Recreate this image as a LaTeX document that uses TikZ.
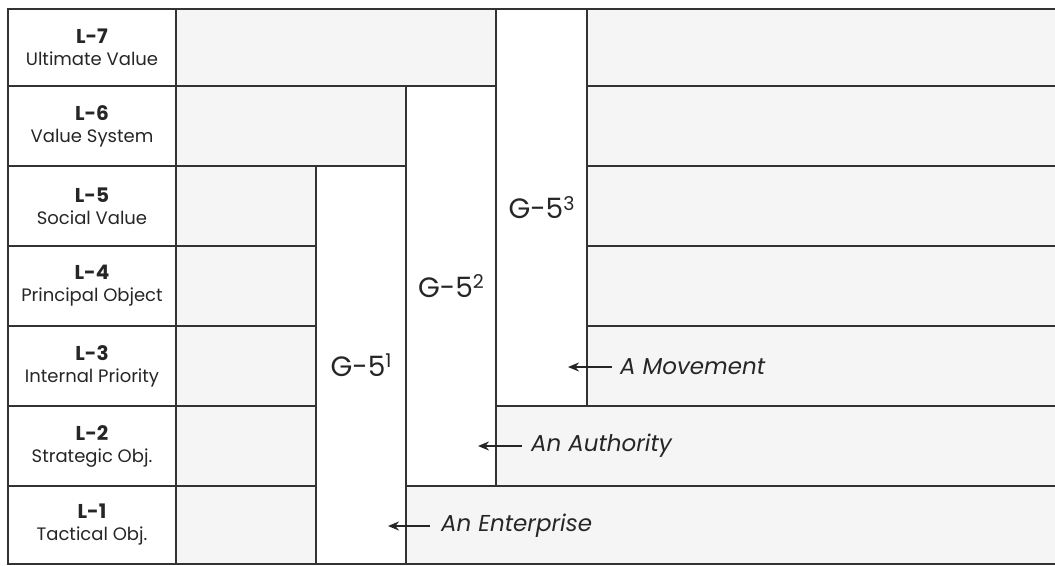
\documentclass[tikz,border=0pt]{standalone}
\usepackage{fontspec}
\setmainfont{Poppins}
\usetikzlibrary{arrows.meta}
\newcommand\mycell[7]{\node[#6, minimum width={(#4-#2)*1pt}, minimum height={(#5-#3)*1pt}] (#1) at ({(#2+#4)/2},{(#3+#5)/2}) {#7};}
\newcommand\lev[2]{{\fontsize{20}{22}\selectfont\bfseries #1}\\#2}
\newcommand\gsup[1]{\raisebox{8.5pt}{\fontsize{19}{20}\selectfont #1}}
\begin{document}
\begin{tikzpicture}[x=1pt,y=-1pt,
  frame/.style={draw=black!80, line width=1.7pt, inner sep=0pt, outer sep=0pt},
  lab/.style={frame, fill=white, align=center, font=\fontsize{18}{22}\selectfont, text=black!85},
  shade/.style={frame, fill=black!4},
  col/.style={frame, fill=white, font=\fontsize{28}{30}\selectfont, text=black!85},
  tag/.style={font=\fontsize{23}{26}\selectfont\itshape, text=black!85, anchor=west, inner sep=0pt},
  arr/.style={draw=black!85, line width=2pt, -{Stealth[length=11pt,width=9pt]}}
]
\useasboundingbox (0,0) rectangle (1055,565);
\fill[white] (0,0) rectangle (1055,565);
% shaded cells
\mycell{s7a}{176}{9}{496}{86}{shade}{}
\mycell{s6a}{176}{86}{406}{166}{shade}{}
\mycell{s5a}{176}{166}{316}{246}{shade}{}
\mycell{s4a}{176}{246}{316}{326}{shade}{}
\mycell{s3a}{176}{326}{316}{406}{shade}{}
\mycell{s2a}{176}{406}{316}{486}{shade}{}
\mycell{s1a}{176}{486}{316}{564}{shade}{}
\mycell{s7b}{587}{9}{1070}{86}{shade}{}
\mycell{s6b}{587}{86}{1070}{166}{shade}{}
\mycell{s5b}{587}{166}{1070}{246}{shade}{}
\mycell{s4b}{587}{246}{1070}{326}{shade}{}
\mycell{s3b}{587}{326}{1070}{406}{shade}{}
\mycell{s2b}{496}{406}{1070}{486}{shade}{}
\mycell{s1b}{406}{486}{1070}{564}{shade}{}
% level labels
\mycell{L7}{8}{9}{176}{86}{lab}{\lev{L-7}{Ultimate Value}}
\mycell{L6}{8}{86}{176}{166}{lab}{\lev{L-6}{Value System}}
\mycell{L5}{8}{166}{176}{246}{lab}{\lev{L-5}{Social Value}}
\mycell{L4}{8}{246}{176}{326}{lab}{\lev{L-4}{Principal Object}}
\mycell{L3}{8}{326}{176}{406}{lab}{\lev{L-3}{Internal Priority}}
\mycell{L2}{8}{406}{176}{486}{lab}{\lev{L-2}{Strategic Obj.}}
\mycell{L1}{8}{486}{176}{564}{lab}{\lev{L-1}{Tactical Obj.}}
% G-5 columns
\mycell{g1}{316}{166}{406}{564}{col}{G-5\gsup{1}}
\mycell{g2}{406}{86}{496}{486}{col}{G-5\gsup{2}}
\mycell{g3}{496}{9}{587}{406}{col}{G-5\gsup{3}}
% tags and arrows
\node[tag] (tM) at (620,367) {A Movement};
\node[tag] (tA) at (531,446) {An Authority};
\node[tag] (tE) at (441,526) {An Enterprise};
\coordinate (hM) at (568,367);
\coordinate (hA) at (478,446);
\coordinate (hE) at (388,526);
\draw[arr] ([xshift=-8pt]tM.west) -- (hM);
\draw[arr] ([xshift=-9pt]tA.west) -- (hA);
\draw[arr] ([xshift=-11pt]tE.west) -- (hE);
\end{tikzpicture}
\end{document}
